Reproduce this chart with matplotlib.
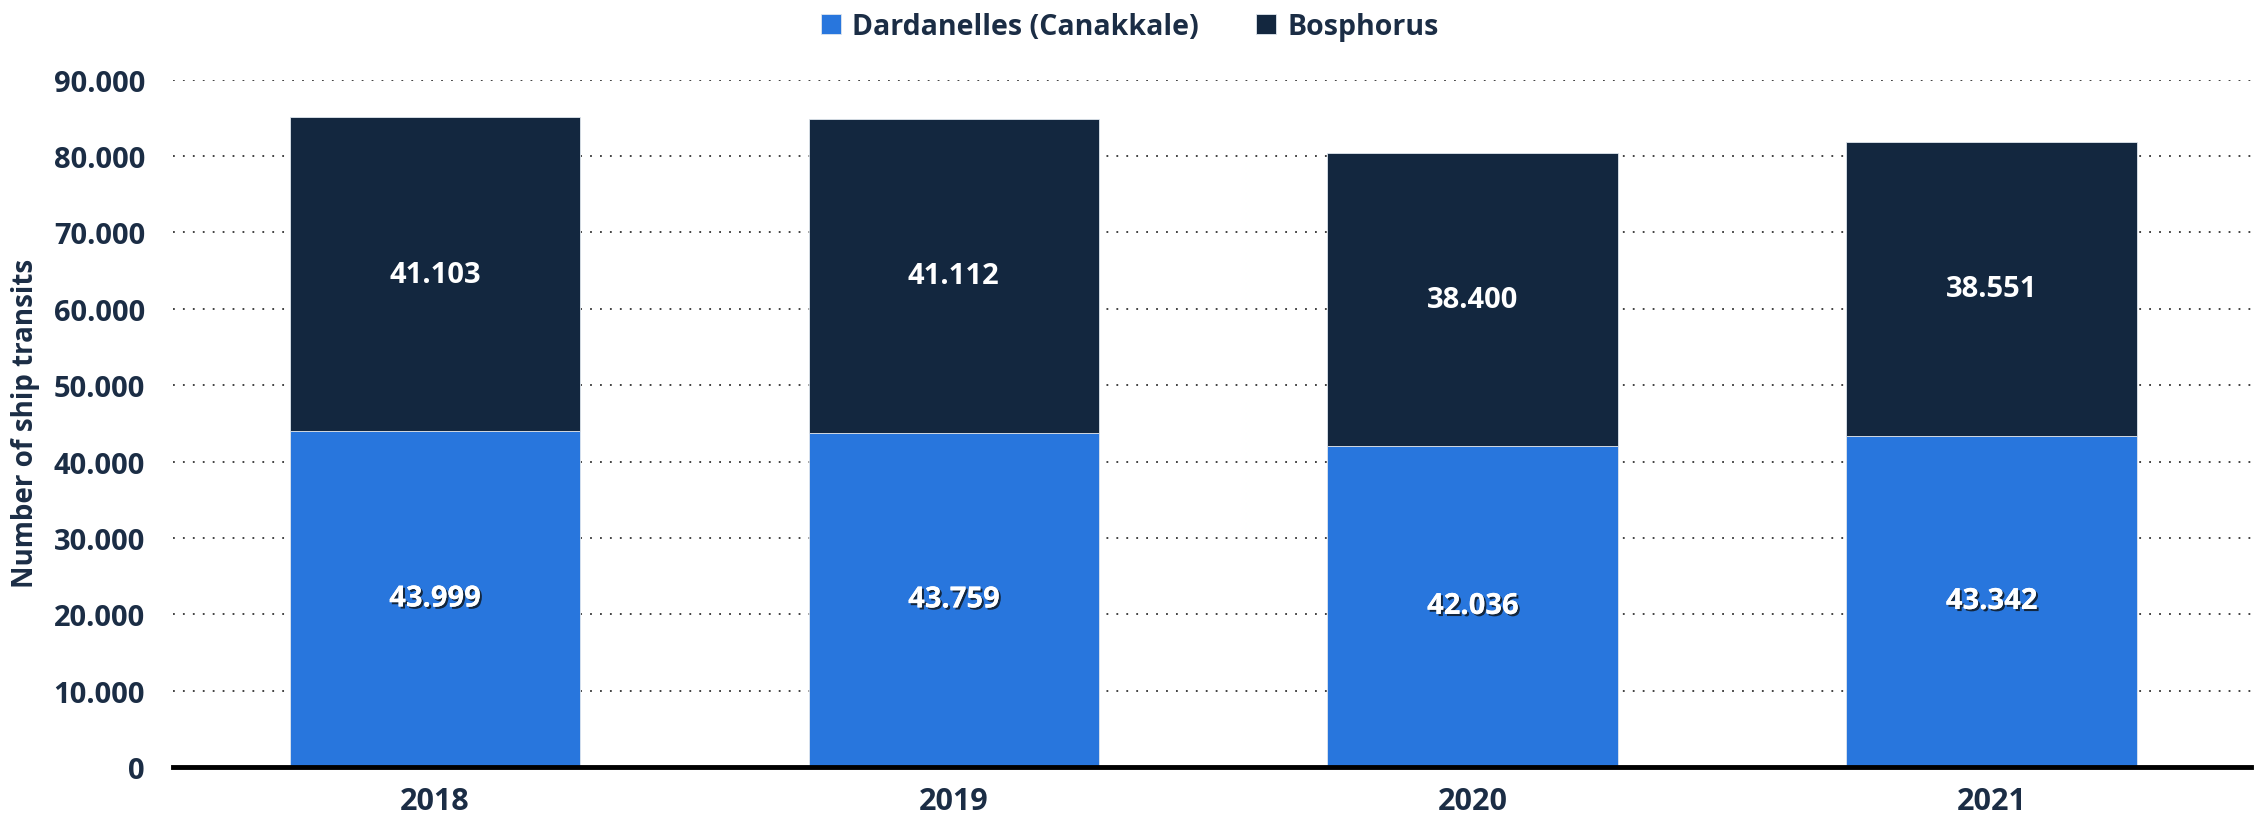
import matplotlib
matplotlib.use("Agg")
import matplotlib.pyplot as plt
import matplotlib.patheffects as pe
from matplotlib.ticker import FuncFormatter, MultipleLocator

years = ["2018", "2019", "2020", "2021"]
dardanelles = [43999, 43759, 42036, 43342]
bosphorus = [41103, 41112, 38400, 38551]

blue = "#2876dd"
navy = "#13273f"
text_color = "#1b2d45"

plt.rcParams["font.family"] = ["Open Sans", "DejaVu Sans"]
plt.rcParams["font.weight"] = "bold"


def dotted_thousands(v, pos):
    return f"{int(v):,}".replace(",", ".")


fig = plt.figure(figsize=(22.6, 8.28), dpi=100)
ax = fig.add_axes([0.0765, 0.0725, 0.9195, 0.83])

x = range(len(years))
width = 0.56
b1 = ax.bar(x, dardanelles, width, color=blue, edgecolor="#dfe6ee",
            linewidth=0.6, label="Dardanelles (Canakkale)", zorder=3)
b2 = ax.bar(x, bosphorus, width, bottom=dardanelles, color=navy,
            edgecolor="#dfe6ee", linewidth=0.6, label="Bosphorus", zorder=3)

shadow = [pe.withSimplePatchShadow(offset=(1.5, -1.5), shadow_rgbFace=navy, alpha=1.0),
          pe.Normal()]
for i in x:
    ax.text(i, dardanelles[i] / 2, dotted_thousands(dardanelles[i], None),
            ha="center", va="center", color="white", fontsize=21,
            fontweight="bold", path_effects=shadow, zorder=4)
    ax.text(i, dardanelles[i] + bosphorus[i] / 2, dotted_thousands(bosphorus[i], None),
            ha="center", va="center", color="white", fontsize=21,
            fontweight="bold", zorder=4)

ax.set_xlim(-0.505, 3.5)
ax.set_ylim(0, 90000)
ax.yaxis.set_major_locator(MultipleLocator(10000))
ax.yaxis.set_major_formatter(FuncFormatter(dotted_thousands))
ax.grid(axis="y", linestyle=(0, (1, 4.5)), color="#333333", linewidth=1.3, zorder=0)
ax.set_axisbelow(True)

for s in ["top", "right", "left"]:
    ax.spines[s].set_visible(False)
ax.spines["bottom"].set_linewidth(3.5)
ax.spines["bottom"].set_color("black")
ax.spines["bottom"].set_zorder(5)

ax.set_xticks(list(x))
ax.set_xticklabels(years)
ax.tick_params(axis="y", length=0, labelsize=21, labelcolor=text_color, pad=20)
ax.tick_params(axis="x", length=0, labelsize=22, labelcolor=text_color, pad=14)
for lbl in ax.get_xticklabels() + ax.get_yticklabels():
    lbl.set_fontweight("bold")

# axis title placed directly in figure coordinates
fig.text(0.0115, 0.489, "Number of ship transits", rotation=90, ha="center",
         va="center", fontsize=20, fontweight="bold", color=text_color)

leg = fig.legend(handles=[b1, b2], loc="upper center", bbox_to_anchor=(0.5, 1.015),
                 ncol=2, frameon=False, fontsize=20.5, handlelength=0.7,
                 handleheight=0.7, handletextpad=0.4, columnspacing=2.0)
for t in leg.get_texts():
    t.set_color(text_color)
    t.set_fontweight("bold")

fig.savefig("out.png", dpi=100)
